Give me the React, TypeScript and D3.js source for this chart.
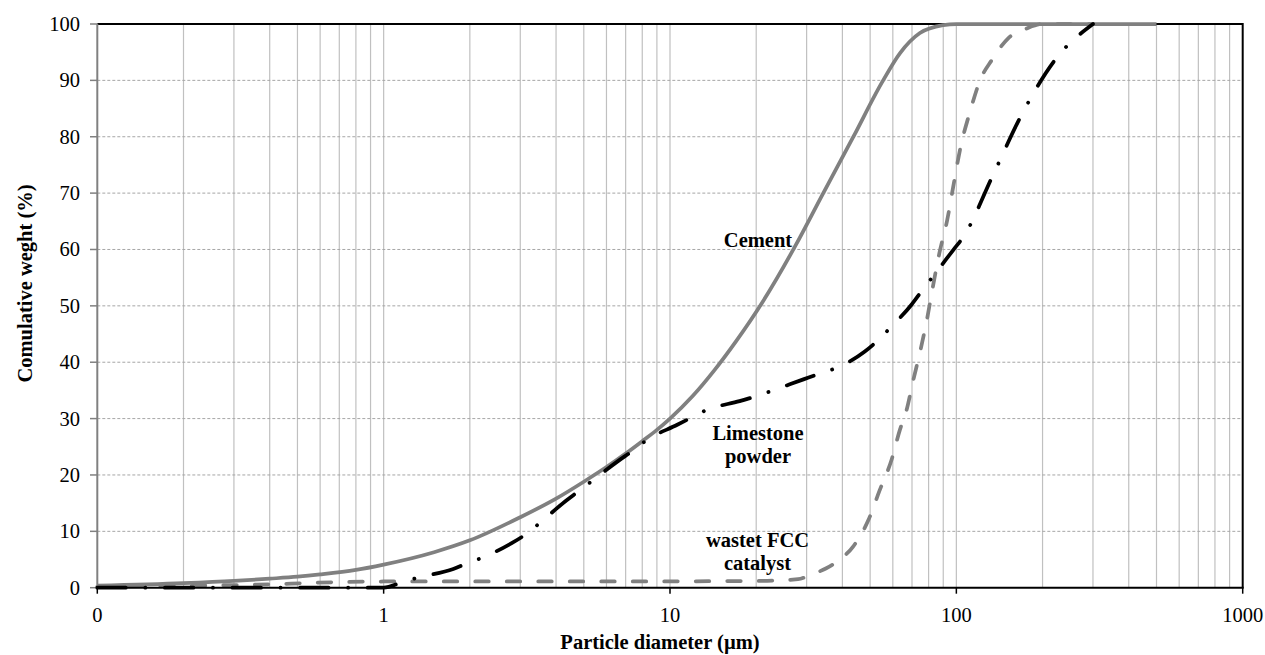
import React from "react";
import * as d3 from "d3";

const cementD = [0.1, 0.2, 0.3, 0.4, 0.5, 0.6, 0.8, 1, 1.5, 2, 3, 4, 5, 6, 7, 8, 9, 10, 12, 14.3, 17, 21, 27.3, 34.3, 43.7, 54.8, 63.5, 74.6, 90, 100, 200, 500];
const cementV = [0.35, 0.8, 1.2, 1.6, 1.95, 2.35, 3.15, 4.1, 6.3, 8.4, 12.5, 15.8, 18.8, 21.4, 23.8, 26.0, 28.0, 30.0, 34.0, 38.6, 43.7, 50.6, 60.5, 70, 80, 89.5, 94.8, 98.4, 99.8, 100, 100, 100];

const limeD = [0.1, 0.5, 1.0, 1.157, 1.32, 1.75, 1.95, 2.25, 2.8, 3.16, 3.55, 4.3, 4.82, 5.39, 6.6, 7.46, 8.3, 10.6, 11.9, 13.4, 17.5, 20.1, 22.6, 29.4, 33.4, 37.7, 47.9, 53, 58.5, 69.7, 76.1, 82.8, 97.5, 106, 134, 169, 224, 300];
const limeV = [0, 0, 0, 0.95, 1.8, 3.3, 4.3, 5.5, 7.9, 9.6, 11.7, 15.3, 17.2, 19.1, 22.5, 24.4, 26.2, 28.9, 30.2, 31.5, 33.1, 34, 34.9, 37, 38, 38.9, 41.9, 43.8, 46, 50.2, 52.8, 55.2, 59.9, 62.3, 73.1, 83.9, 94, 100];

const fccD = [0.1, 0.2, 0.33, 0.41, 0.52, 0.7, 1, 5, 20, 28, 31, 35, 39, 43.6, 49.3, 54, 59.4, 63.5, 67, 70.5, 75.2, 78.9, 82.8, 87.2, 92.9, 97.5, 102.9, 112, 121, 133, 152, 176, 200, 300];
const fccV = [0.2, 0.35, 0.5, 0.6, 0.8, 1.0, 1.1, 1.1, 1.2, 1.5, 2.3, 3.4, 4.9, 7.3, 12, 17.3, 22.7, 28, 31.5, 36.5, 42.5, 47.5, 53.4, 59.3, 65.2, 71.1, 77.6, 84.7, 90, 93.6, 97.5, 99.2, 100, 100];

const xMajor = [0.1, 1, 10, 100, 1000];
const xMajorLabels = ["0", "1", "10", "100", "1000"];
const yTicks = [0, 10, 20, 30, 40, 50, 60, 70, 80, 90, 100];

const FONT = "'Liberation Serif', 'Times New Roman', serif";

export default function App() {
  const W = 1265, H = 655;
  const x = d3.scaleLog().domain([0.1, 1000]).range([97.3, 1242.7]);
  const y = d3.scaleLinear().domain([0, 100]).range([587.7, 24]);

  const minor: number[] = [];
  [0.1, 1, 10, 100].forEach((b) => {
    for (let k = 1; k <= 9; k++) {
      if (b === 0.1 && k === 1) continue;
      minor.push(b * k);
    }
  });

  const line = d3
    .line<[number, number]>()
    .x((d) => x(d[0]))
    .y((d) => y(d[1]))
    .curve(d3.curveMonotoneX);

  const zip = (a: number[], b: number[]) => a.map((v, i) => [v, b[i]] as [number, number]);

  return (
    <svg width={W} height={H} style={{ position: "absolute", left: 0, top: 0 }} fontFamily={FONT}>
      <rect x={0} y={0} width={W} height={H} fill="#fff" />
      {minor.map((v, i) => (
        <line key={"vg" + i} x1={x(v)} x2={x(v)} y1={y(100)} y2={y(0)} stroke="#c0c0c0" strokeWidth={1.2} />
      ))}
      {yTicks.slice(1, -1).map((v) => (
        <line key={"hg" + v} x1={x(0.1)} x2={x(1000)} y1={y(v)} y2={y(v)} stroke="#a6a6a6" strokeWidth={1} strokeDasharray="3 2" />
      ))}
      <line x1={x(0.1)} x2={x(1000)} y1={y(100)} y2={y(100)} stroke="#000" strokeWidth={2} />
      <line x1={x(1000)} x2={x(1000)} y1={y(100) - 1} y2={y(0)} stroke="#000" strokeWidth={2} />
      <line x1={x(0.1)} x2={x(0.1)} y1={y(100)} y2={y(0)} stroke="#808080" strokeWidth={2} />
      {yTicks.map((v) => (
        <g key={"yt" + v}>
          <line x1={90} x2={x(0.1)} y1={y(v)} y2={y(v)} stroke="#808080" strokeWidth={1.5} />
          <text x={80} y={y(v) + 7} textAnchor="end" fontSize={20.5} fill="#000">
            {v}
          </text>
        </g>
      ))}
      <path d={line(zip(cementD, cementV)) || ""} fill="none" stroke="#808080" strokeWidth={3.75} />
      <path
        d={line(zip(fccD, fccV)) || ""}
        fill="none"
        stroke="#808080"
        strokeWidth={3.75}
        strokeDasharray="13.5 18"
        strokeLinecap="round"
      />
      <path
        d={line(zip(limeD, limeV)) || ""}
        fill="none"
        stroke="#000"
        strokeWidth={3.75}
        strokeDasharray="28.5 19.5 0.1 19.5"
        strokeLinecap="round"
      />
      <line x1={x(0.1) - 1} x2={x(1000) + 1} y1={y(0)} y2={y(0)} stroke="#000" strokeWidth={2} />
      {xMajor.map((v, i) => (
        <g key={"xt" + v}>
          <line x1={x(v)} x2={x(v)} y1={y(0)} y2={y(0) + 6} stroke="#000" strokeWidth={1.5} />
          <text x={x(v)} y={621.5} textAnchor="middle" fontSize={20.5} fill="#000">
            {xMajorLabels[i]}
          </text>
        </g>
      ))}
      <g fontWeight="bold" fontSize={20.5} textAnchor="middle" fill="#000">
        <text x={758} y={247}>Cement</text>
        <text x={758} y={440}>Limestone</text>
        <text x={758} y={463}>powder</text>
        <text x={757.5} y={547}>wastet FCC</text>
        <text x={757.5} y={570}>catalyst</text>
      </g>
      <text x={660} y={649} textAnchor="middle" fontWeight="bold" fontSize={20.5} fill="#000">
        Particle diameter (µm)
      </text>
      <text
        transform={`translate(32,283.5) rotate(-90)`}
        textAnchor="middle"
        fontWeight="bold"
        fontSize={20.5}
        fill="#000"
      >
        Comulative weght (%)
      </text>
    </svg>
  );
}
